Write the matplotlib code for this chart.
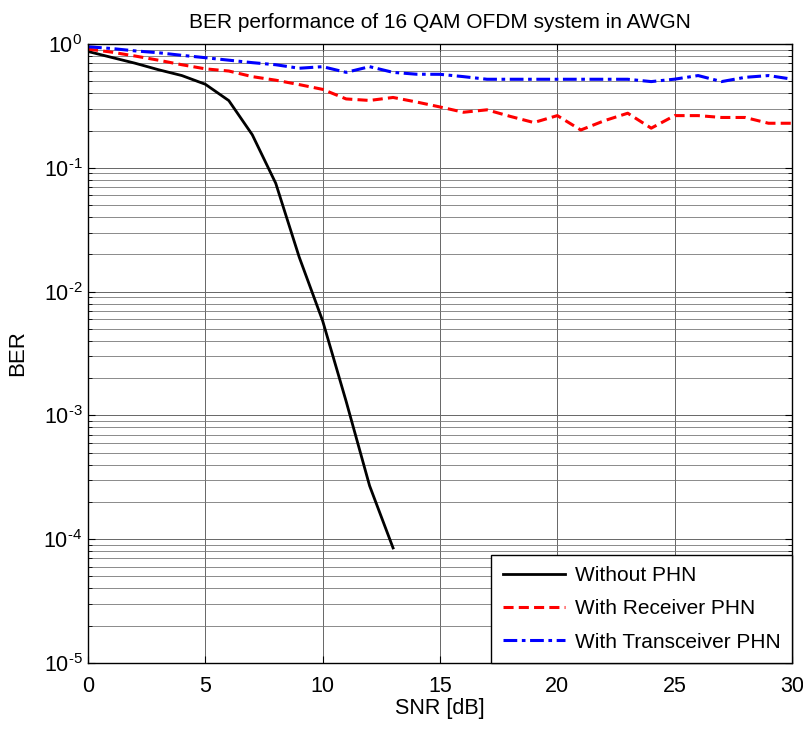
import matplotlib
matplotlib.use("Agg")
import matplotlib.pyplot as plt
import numpy as np
from matplotlib.ticker import LogLocator, NullFormatter, FuncFormatter

# ---------------- data ----------------
snr_black = [0, 1, 2, 3, 4, 5, 6, 7, 8, 9, 10, 11, 12, 13]
ber_black = [0.87, 0.78, 0.70, 0.62, 0.556, 0.473, 0.349, 0.185, 0.075, 0.019,
             5.8e-3, 1.3e-3, 2.7e-4, 8.5e-5]

snr = list(range(0, 31))
ber_rx = [0.91, 0.86, 0.80, 0.74, 0.68, 0.63, 0.605, 0.545, 0.51, 0.47,
          0.43, 0.36, 0.35, 0.37, 0.34, 0.31, 0.281, 0.294, 0.26, 0.232,
          0.264, 0.202, 0.24, 0.276, 0.209, 0.264, 0.264, 0.255, 0.255, 0.229,
          0.229]
ber_trx = [0.95, 0.92, 0.88, 0.85, 0.81, 0.775, 0.74, 0.707, 0.68, 0.637,
           0.656, 0.59, 0.656, 0.59, 0.57, 0.569, 0.545, 0.519, 0.519, 0.519,
           0.519, 0.519, 0.519, 0.519, 0.497, 0.52, 0.556, 0.497, 0.538, 0.556,
           0.52]

labels = ['Without PHN', 'With Receiver PHN', 'With Transceiver PHN']
x_ticks = [0, 5, 10, 15, 20, 25, 30]

# ---------------- fonts ----------------
fam = 'Liberation Sans'
plt.rcParams['font.family'] = [fam, 'DejaVu Sans']
plt.rcParams['mathtext.fontset'] = 'custom'
plt.rcParams['mathtext.rm'] = fam
plt.rcParams['mathtext.it'] = fam
plt.rcParams['mathtext.bf'] = fam


def log_fmt(v, pos):
    e = int(round(np.log10(v)))
    if e < 0:
        return r'$\mathregular{10^{\text{-%d}}}$' % (-e)
    return r'$\mathregular{10^{%d}}$' % e


fig = plt.figure(figsize=(8.04, 7.29), dpi=100)
ax = fig.add_axes([88/804, 66/729, (792-88)/804, (663-44)/729])

ax.semilogy(snr_black, ber_black, color='black', lw=2.0, label=labels[0])
ax.semilogy(snr, ber_rx, color='red', lw=2.2, ls=(0, (3.3, 1.7)), label=labels[1])
ax.semilogy(snr, ber_trx, color='blue', lw=2.2, ls=(0, (4.5, 1.5, 1.2, 1.5)), label=labels[2])

ax.set_xlim(0, 30)
ax.set_ylim(1e-5, 1)
ax.set_xticks(x_ticks)
ax.yaxis.set_major_locator(LogLocator(base=10, numticks=10))
ax.yaxis.set_major_formatter(FuncFormatter(log_fmt))
ax.yaxis.set_minor_locator(LogLocator(base=10, subs=np.arange(2, 10), numticks=20))
ax.yaxis.set_minor_formatter(NullFormatter())

ax.grid(True, which='major', axis='both', color='#666666', lw=0.7, ls='-')
ax.grid(True, which='minor', axis='y', color='#777777', lw=0.6, ls='-')
ax.set_axisbelow(True)

ax.tick_params(which='both', direction='in', top=True, right=True, labelsize=15.5)
ax.tick_params(axis='y', which='major', pad=4)
ax.tick_params(axis='x', which='major', pad=9)
ax.tick_params(which='major', length=5)
ax.tick_params(which='minor', length=3)
for s in ax.spines.values():
    s.set_linewidth(1.0)

ax.set_title('BER performance of 16 QAM OFDM system in AWGN', fontsize=15, pad=11.5)
ax.set_xlabel('SNR [dB]', fontsize=15.5)
ax.xaxis.set_label_coords(0.5, -(698-663)/619)
ax.set_ylabel('BER', fontsize=16)
ax.yaxis.set_label_coords((28-88)/704, 0.5)

leg = ax.legend(loc='lower right', fontsize=15, frameon=True, fancybox=False,
                edgecolor='black', borderaxespad=0, handlelength=3.0,
                handletextpad=0.45, borderpad=0.55, labelspacing=0.68)
leg.get_frame().set_linewidth(1.0)
leg.get_frame().set_alpha(1)

fig.savefig('out.png', dpi=100)
